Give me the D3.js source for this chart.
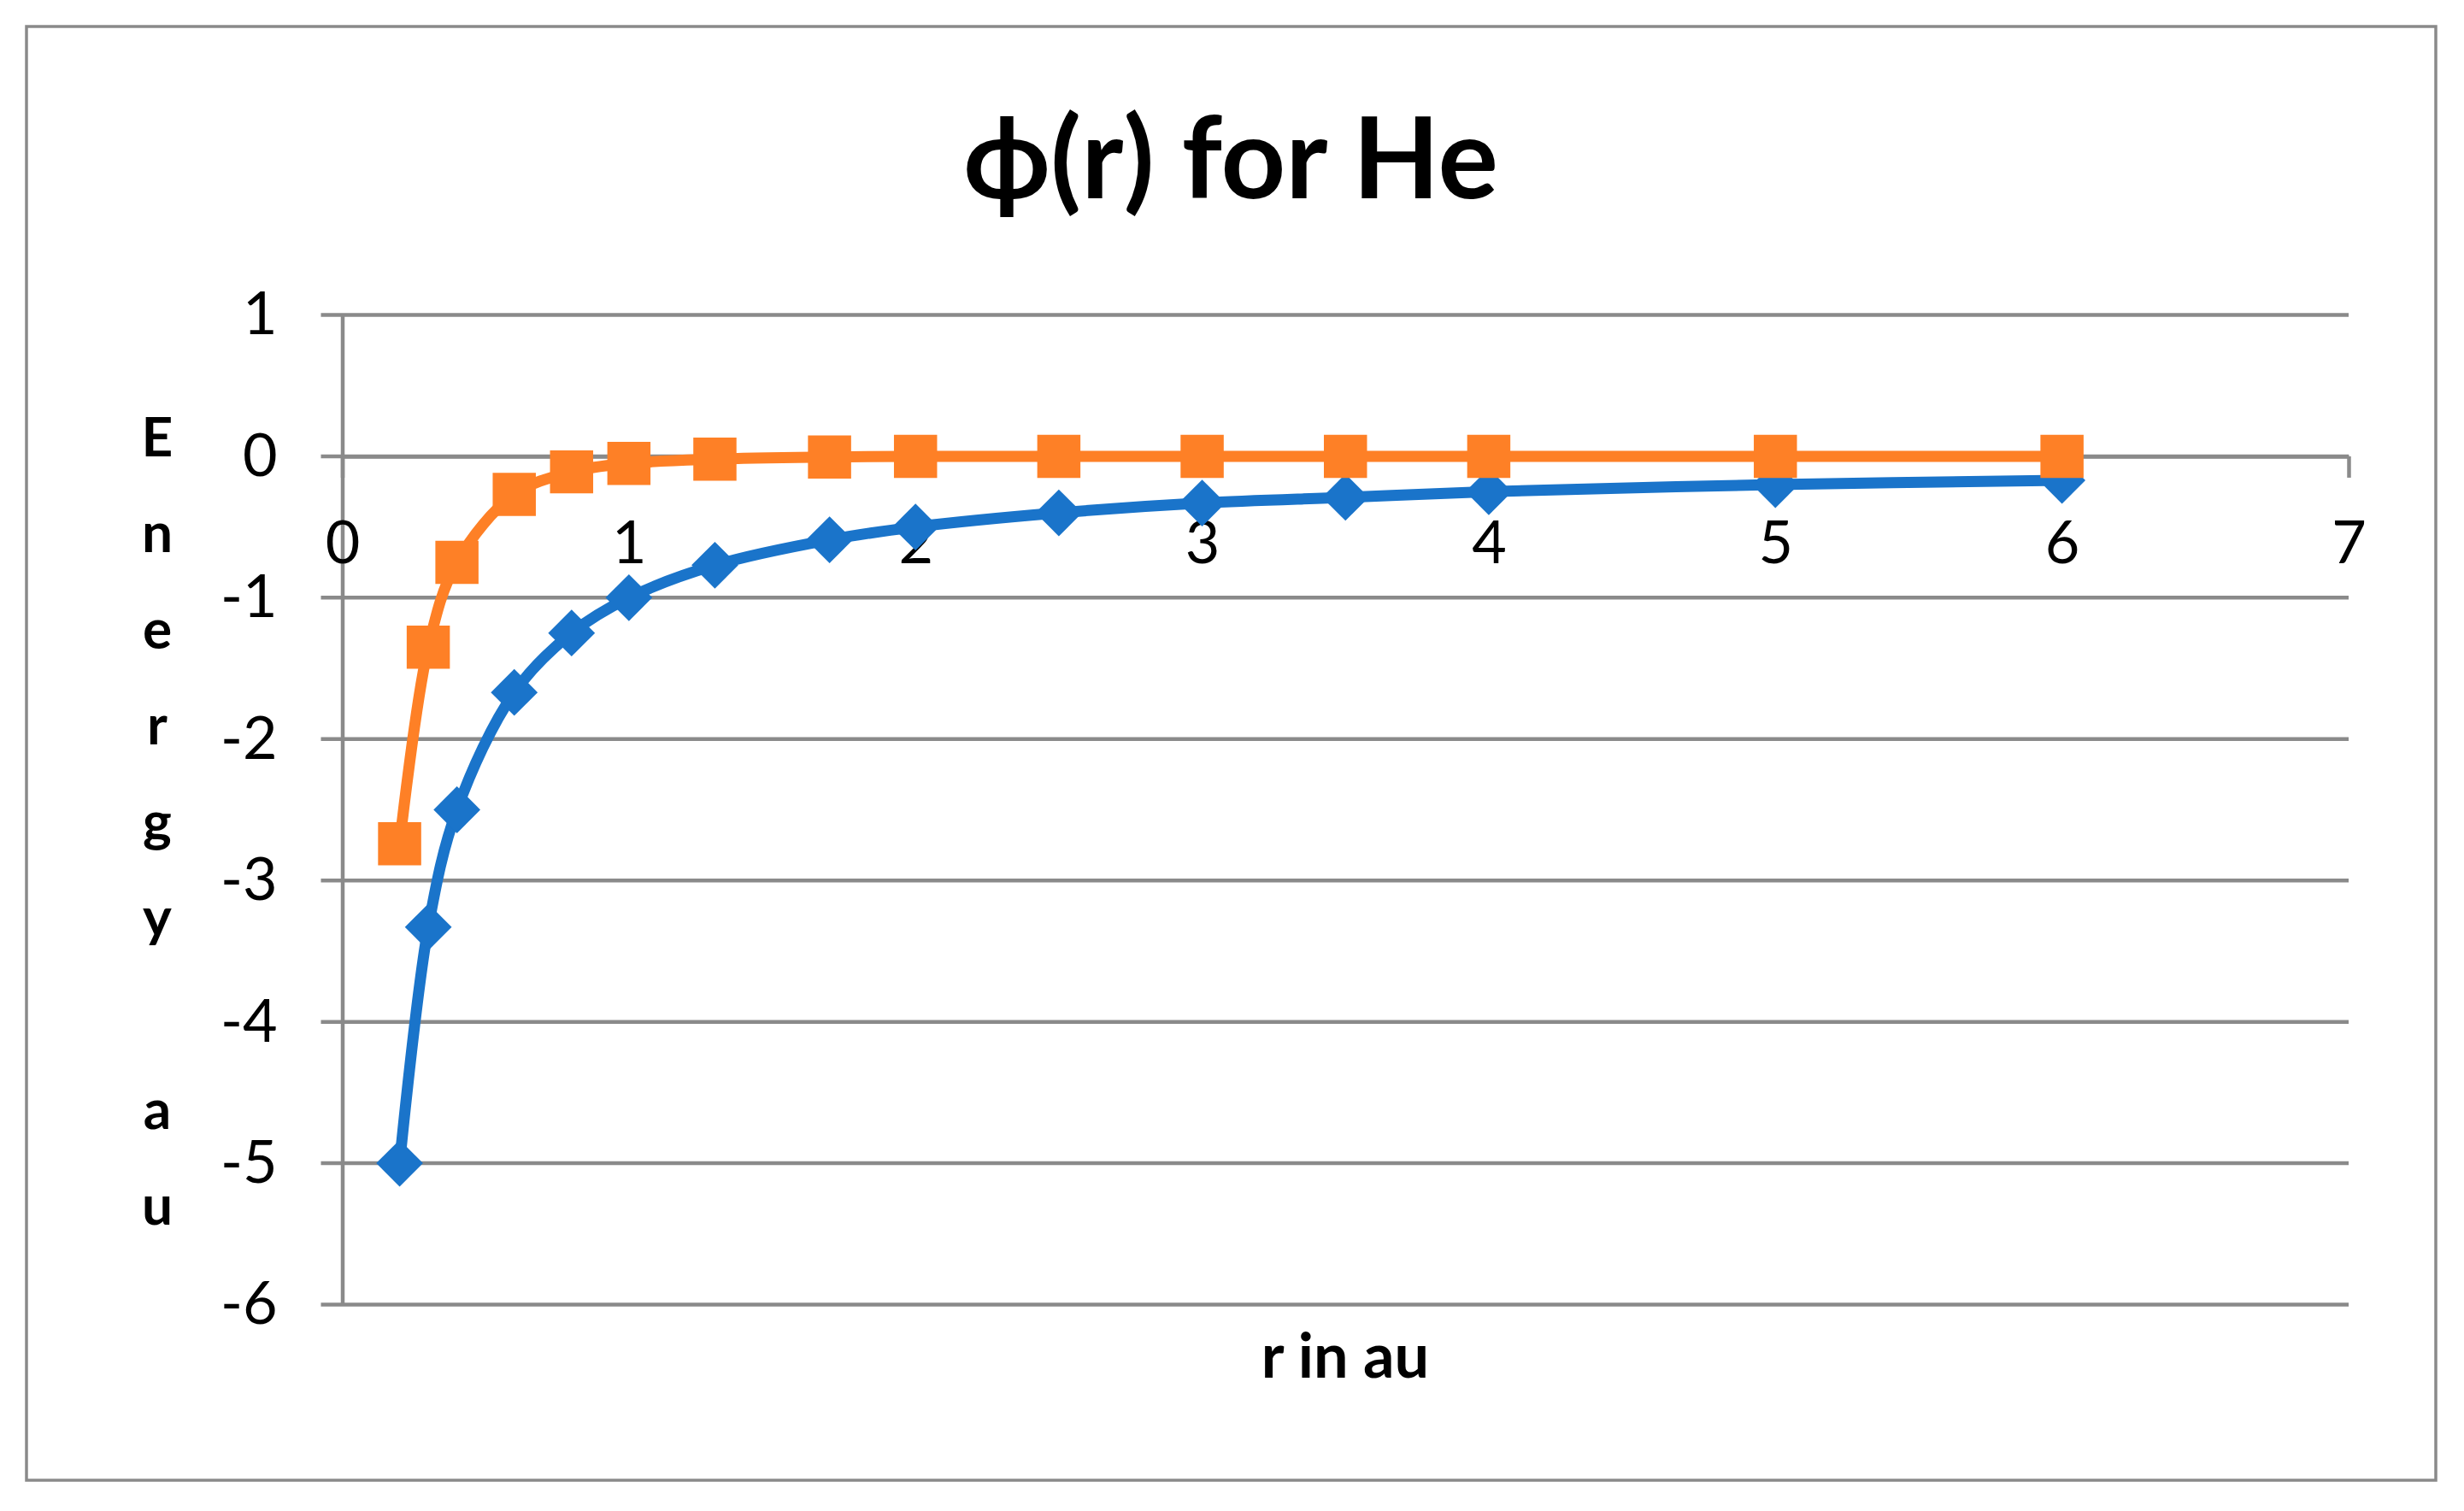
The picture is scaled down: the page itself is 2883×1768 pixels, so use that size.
<!DOCTYPE html>
<html>
<head>
<meta charset="utf-8">
<script src="https://cdn.jsdelivr.net/npm/d3@7"></script>
<style>
  body { margin: 0; background: #fff; }
  text { font-family: Lato, "Open Sans", sans-serif; fill: #000; }
</style>
</head>
<body>
<div id="chart"></div>
<script>
// data
const rValues = [0.2, 0.3, 0.4, 0.6, 0.8, 1, 1.3, 1.7, 2, 2.5, 3, 3.5, 4, 5, 6]
const blueValues = [-5, -3.33, -2.5, -1.67, -1.25, -1, -0.77, -0.59, -0.5, -0.4, -0.33, -0.29, -0.25, -0.2, -0.17]
const orangeValues = [-2.74, -1.35, -0.75, -0.27, -0.11, -0.05, -0.02, -0.005, 0, 0, 0, 0, 0, 0, 0]
const xTicks = [0, 1, 2, 3, 4, 5, 6, 7]
const yTicks = [1, 0, -1, -2, -3, -4, -5, -6]
const titleText = 'ϕ(r) for He'
const xTitle = 'r in au'
const yTitle = 'Energy au'

const W = 2883
const H = 1768
const margin = { top: 368.5, left: 400.5, right: 135, bottom: 241.5 }
const width = W - margin.left - margin.right
const height = H - margin.top - margin.bottom

const gridColor = '#8a8a8a'

const root = d3
  .select('#chart')
  .append('svg')
  .attr('width', W)
  .attr('height', H)

root
  .append('rect')
  .attr('x', 31)
  .attr('y', 31)
  .attr('width', 2819)
  .attr('height', 1701)
  .attr('fill', '#fff')
  .attr('stroke', gridColor)
  .attr('stroke-width', 3.5)

root
  .append('text')
  .attr('x', 1440)
  .attr('y', 232)
  .attr('text-anchor', 'middle')
  .attr('font-weight', 'bold')
  .attr('font-size', 132)
  .text(titleText)

const svg = root
  .append('g')
  .attr('transform', 'translate(' + margin.left + ',' + margin.top + ')')

const x = d3.scaleLinear().domain([0, 7]).range([0, width])
const y = d3.scaleLinear().domain([-6, 1]).range([height, 0])

// horizontal gridlines
svg
  .selectAll('.grid')
  .data(yTicks)
  .enter()
  .append('line')
  .attr('class', 'grid')
  .attr('x1', -25)
  .attr('x2', width)
  .attr('y1', d => y(d))
  .attr('y2', d => y(d))
  .attr('stroke', gridColor)
  .attr('stroke-width', 4.5)

// y axis
const yAxis = svg
  .append('g')
  .call(
    d3
      .axisLeft(y)
      .tickValues(yTicks)
      .tickSize(0)
      .tickPadding(76)
      .tickFormat(d => String(d))
  )
yAxis.select('.domain').attr('stroke', gridColor).attr('stroke-width', 4.5)
yAxis.selectAll('text').attr('font-size', 70).attr('fill', '#000')

// x axis crossing at 0
const xAxis = svg
  .append('g')
  .attr('transform', 'translate(0,' + y(0) + ')')
  .call(
    d3
      .axisBottom(x)
      .tickValues(xTicks)
      .tickSizeInner(25)
      .tickSizeOuter(0)
      .tickPadding(50)
      .tickFormat(d => String(d))
  )
xAxis.select('.domain').attr('stroke', gridColor).attr('stroke-width', 4.5)
xAxis.selectAll('line').attr('stroke', gridColor).attr('stroke-width', 4.5)
xAxis.selectAll('text').attr('font-size', 70).attr('fill', '#000')

// axis titles
root
  .append('text')
  .attr('x', 1574)
  .attr('y', 1612)
  .attr('text-anchor', 'middle')
  .attr('font-weight', 'bold')
  .attr('font-size', 72)
  .text(xTitle)

root
  .append('g')
  .selectAll('text')
  .data(yTitle.split(''))
  .enter()
  .append('text')
  .attr('x', 184)
  .attr('y', (d, i) => 534 + i * 112.4)
  .attr('text-anchor', 'middle')
  .attr('font-weight', 'bold')
  .attr('font-size', 64)
  .text(d => d)

// series
const line = d3
  .line()
  .x(d => x(d[0]))
  .y(d => y(d[1]))
  .curve(d3.curveCatmullRom)

const series = [
  { values: blueValues, color: '#1a74ca', shape: 'diamond' },
  { values: orangeValues, color: '#fe8026', shape: 'square' }
]

const diamond = d3.symbol(d3.symbolSquare, 1500)
const square = d3.symbol(d3.symbolSquare, 2550)

series.forEach(s => {
  const pts = rValues.map((r, i) => [r, s.values[i]])
  const g = svg.append('g')

  g.append('path')
    .datum(pts)
    .attr('d', line)
    .attr('fill', 'none')
    .attr('stroke', s.color)
    .attr('stroke-width', 13)
    .attr('stroke-linejoin', 'round')

  g.selectAll('.marker')
    .data(pts)
    .enter()
    .append('path')
    .attr('class', 'marker')
    .attr('d', s.shape === 'diamond' ? diamond : square)
    .attr('transform', d =>
      'translate(' + x(d[0]) + ',' + y(d[1]) + ')' + (s.shape === 'diamond' ? ' rotate(45)' : '')
    )
    .attr('fill', s.color)
})
</script>
</body>
</html>
